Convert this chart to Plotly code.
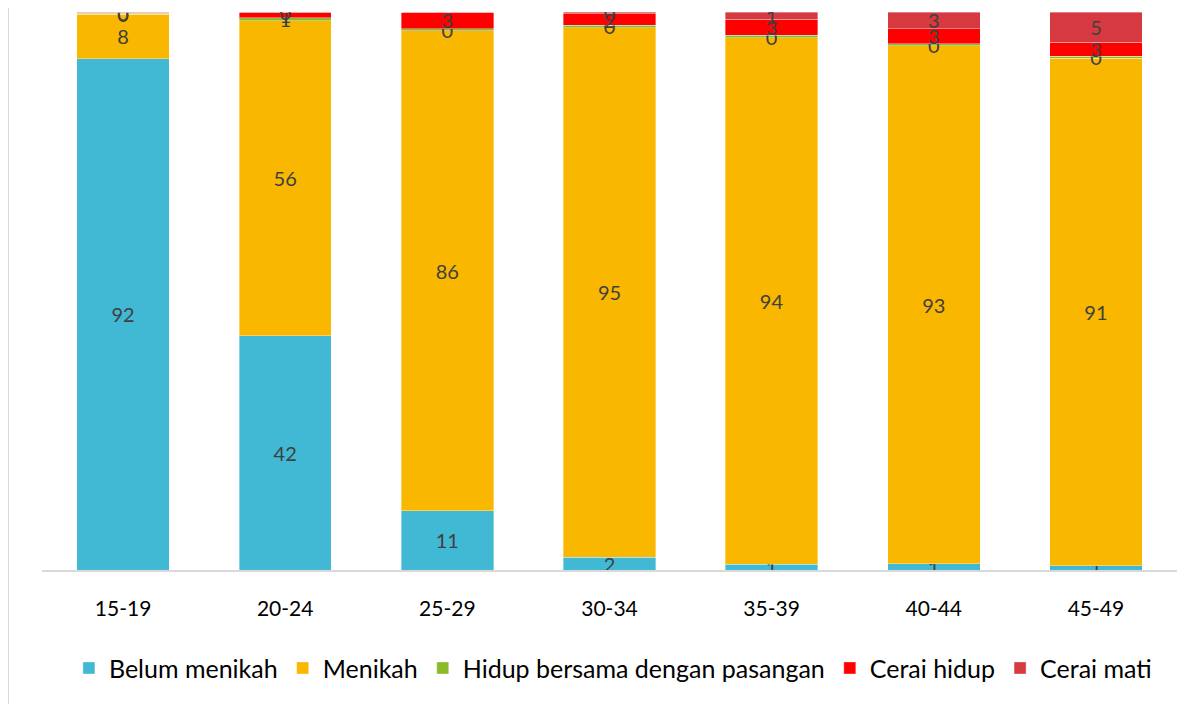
import plotly.graph_objects as go

# kelompok umur dan status perkawinan (persen)
age_groups = ['15-19', '20-24', '25-29', '30-34', '35-39', '40-44', '45-49']
belum_menikah = [92.0, 42.0, 10.6, 2.3, 1.0, 1.1, 0.8]
menikah = [8.0, 56.5, 86.0, 95.0, 94.4, 93.0, 91.3]
hidup_bersama = [0.2, 0.6, 0.4, 0.4, 0.4, 0.4, 0.3]
cerai_hidup = [0.2, 0.9, 3.0, 2.1, 2.9, 2.7, 2.6]
cerai_mati = [0.0, 0.1, 0.0, 0.3, 1.3, 3.0, 5.4]

series = [
    ('Belum menikah', belum_menikah, '#41B9D4'),
    ('Menikah', menikah, '#F9B700'),
    ('Hidup bersama dengan pasangan', hidup_bersama, '#8CBA2A'),
    ('Cerai hidup', cerai_hidup, '#FF0000'),
    ('Cerai mati', cerai_mati, '#D6393F'),
]

FONT = 'Lato'

fig = go.Figure()
for name, vals, color in series:
    fig.add_trace(go.Bar(
        x=age_groups,
        y=vals,
        name=name,
        marker=dict(color=color, line=dict(color='rgba(255,255,255,0.6)', width=0.6)),
        text=[f'{v:.0f}' for v in vals],
        textposition='inside',
        insidetextanchor='middle',
        textangle=0,
        constraintext='none',
        textfont=dict(family=FONT, size=20, color='#404040'),
        hoverinfo='skip',
    ))

fig.update_layout(
    barmode='stack',
    barnorm='percent',
    bargap=0.43,
    width=1203,
    height=704,
    margin=dict(l=34, r=34, t=4, b=142),
    plot_bgcolor='white',
    paper_bgcolor='white',
    uniformtext=dict(minsize=20, mode=False),
    font=dict(family=FONT, size=20, color='#000000'),
    legend=dict(
        orientation='h',
        x=0.503, xanchor='center',
        y=-0.176, yanchor='middle',
        font=dict(family=FONT, size=25, color='#000000'),
        itemwidth=30,
        traceorder='normal',
    ),
    showlegend=True,
)

fig.update_xaxes(
    showline=True, linecolor='#D9D9D9', linewidth=2,
    ticks='', tickfont=dict(family=FONT, size=21, color='#000000'),
    ticklabelstandoff=19,
)
fig.update_yaxes(visible=False, range=[0, 100])

# garis tepi kiri area grafik
fig.add_shape(type='line', xref='paper', yref='paper',
              x0=-0.030, x1=-0.030, y0=-0.26, y1=1.01,
              line=dict(color='#D9D9D9', width=2))

fig.write_html('out.html')
